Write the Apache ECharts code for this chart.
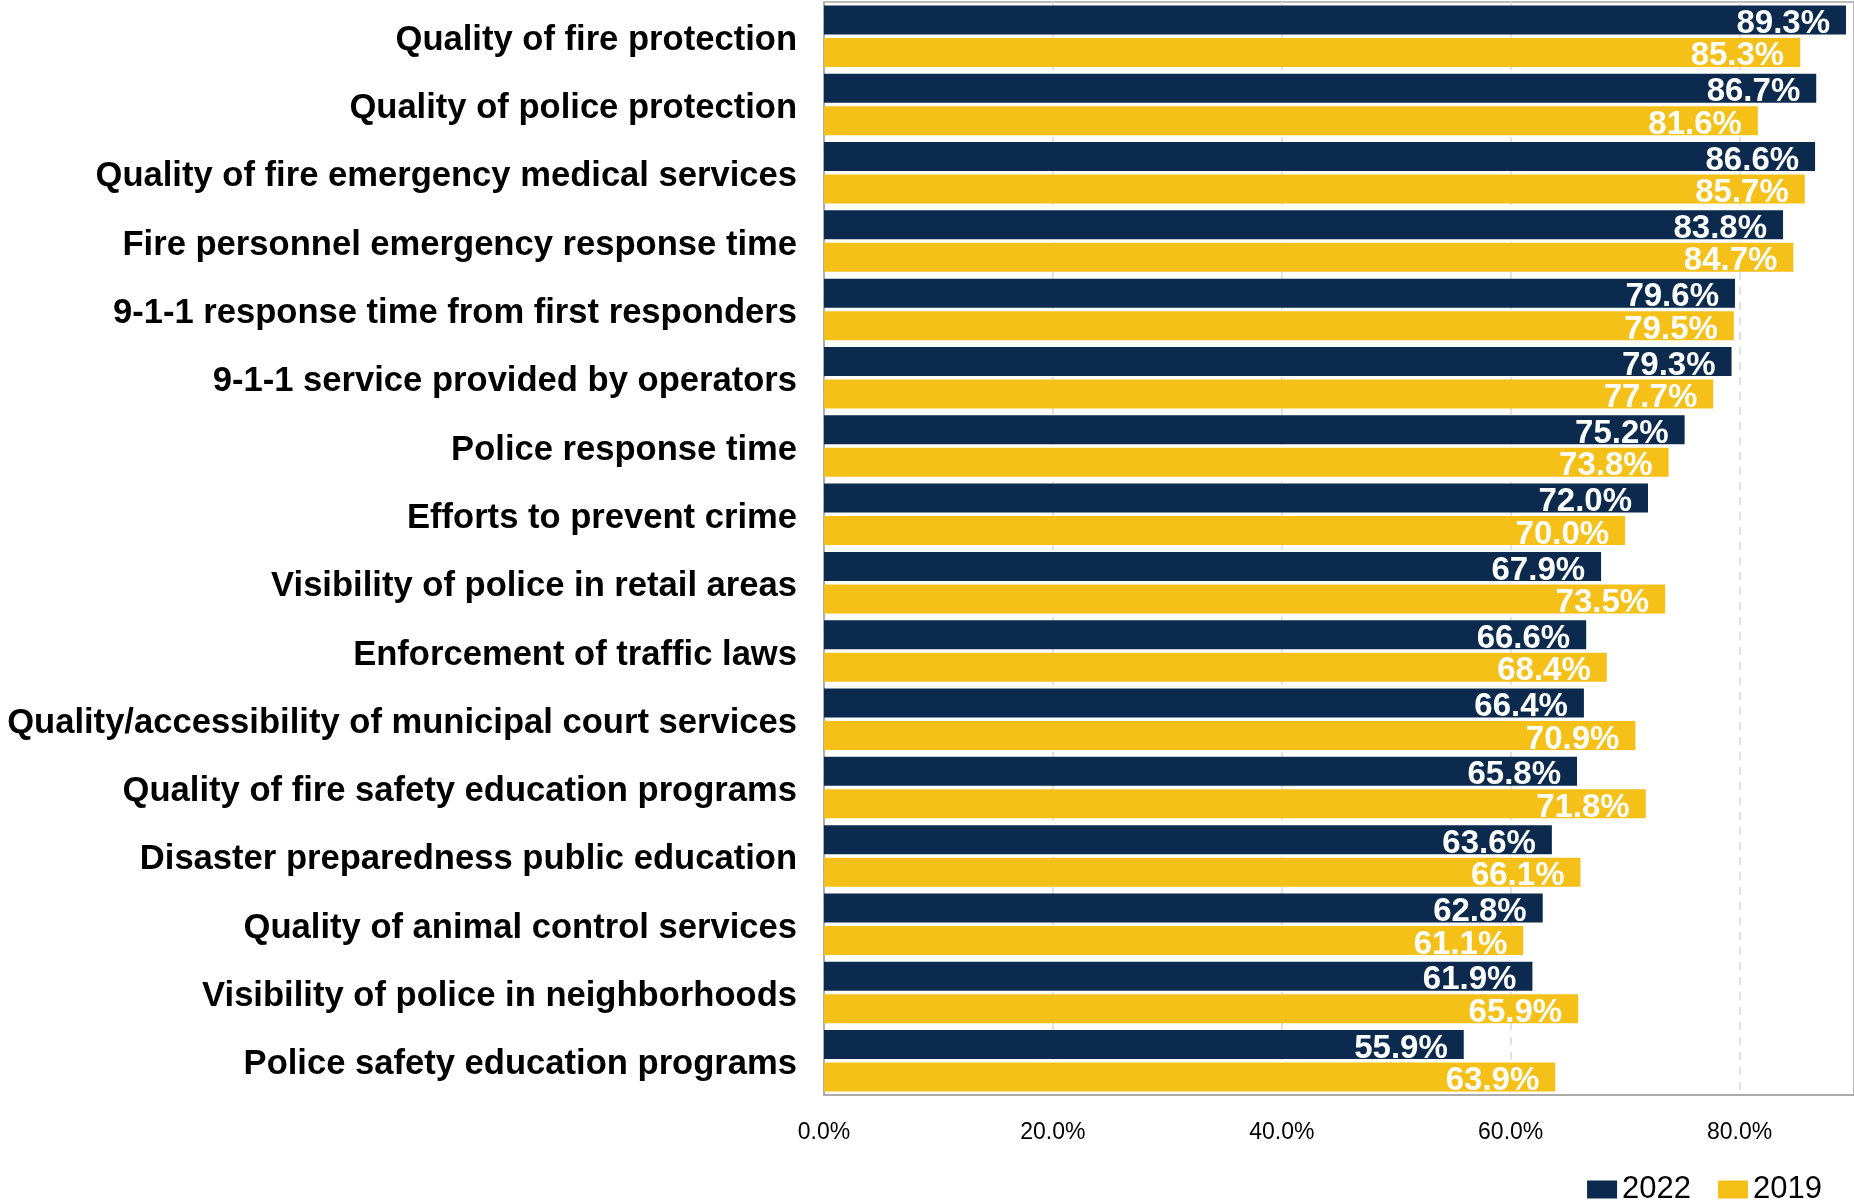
<!DOCTYPE html>
<html>
<head>
<meta charset="utf-8">
<script src="https://cdn.jsdelivr.net/npm/echarts@6/dist/echarts.min.js"></script>
<style>
  html, body { margin: 0; padding: 0; background: #ffffff; }
  #chart { width: 1854px; height: 1203px; }
</style>
</head>
<body>
<div id="chart"></div>
<script>
// Satisfaction with public safety services, share of respondents (%)
const categories = [
  'Quality of fire protection',
  'Quality of police protection',
  'Quality of fire emergency medical services',
  'Fire personnel emergency response time',
  '9-1-1 response time from first responders',
  '9-1-1 service provided by operators',
  'Police response time',
  'Efforts to prevent crime',
  'Visibility of police in retail areas',
  'Enforcement of traffic laws',
  'Quality/accessibility of municipal court services',
  'Quality of fire safety education programs',
  'Disaster preparedness public education',
  'Quality of animal control services',
  'Visibility of police in neighborhoods',
  'Police safety education programs'
];
const values2022 = [89.3, 86.7, 86.6, 83.8, 79.6, 79.3, 75.2, 72.0, 67.9, 66.6, 66.4, 65.8, 63.6, 62.8, 61.9, 55.9];
const values2019 = [85.3, 81.6, 85.7, 84.7, 79.5, 77.7, 73.8, 70.0, 73.5, 68.4, 70.9, 71.8, 66.1, 61.1, 65.9, 63.9];
const seriesNames = ['2022', '2019'];
const axisTicks = [0, 20, 40, 60, 80];

const NAVY = '#0B2A4D';
const GOLD = '#F5C118';
const valueFont = '"Liberation Sans Narrow", "Liberation Sans", Arial, sans-serif';
const textFont = '"Liberation Sans", Arial, sans-serif';

const chart = echarts.init(document.getElementById('chart'), null, { renderer: 'canvas' });

const barLabel = {
  show: true,
  position: 'insideRight',
  distance: 16,
  offset: [0, 4],
  color: '#ffffff',
  fontFamily: valueFont,
  fontWeight: 'bold',
  fontSize: 33,
  formatter: p => p.value.toFixed(1) + '%'
};

chart.setOption({
  animation: false,
  backgroundColor: '#ffffff',
  grid: {
    left: 824, right: 0, top: 2, bottom: 108,
    show: true, borderColor: '#a6a6a6', borderWidth: 1.5,
    containLabel: false,
    outerBoundsMode: 'none'
  },
  legend: {
    right: 27, top: 1169,
    itemWidth: 30, itemHeight: 18, itemGap: 27,
    icon: 'rect',
    textStyle: { fontFamily: textFont, fontSize: 31, color: '#000000' },
    data: seriesNames
  },
  xAxis: {
    type: 'value',
    min: 0, max: 90, interval: 20,
    axisLine: { show: true, lineStyle: { color: '#a6a6a6', width: 1.5 } },
    axisTick: { show: false },
    splitLine: {
      show: true,
      showMaxLine: false,
      lineStyle: { color: '#d9d9d9', type: [8, 7], width: 1.5 }
    },
    axisLabel: {
      margin: 26,
      color: '#000000',
      fontFamily: textFont,
      fontSize: 23,
      customValues: axisTicks,
      formatter: v => v.toFixed(1) + '%'
    }
  },
  yAxis: {
    type: 'category',
    inverse: true,
    data: categories,
    axisLine: { show: true, lineStyle: { color: '#a6a6a6', width: 1.5 } },
    axisTick: { show: false },
    axisLabel: {
      margin: 27,
      verticalAlign: 'top',
      lineHeight: 8,
      color: '#000000',
      fontFamily: textFont,
      fontWeight: 'bold',
      fontSize: 34.6
    }
  },
  series: [
    {
      name: seriesNames[0], type: 'bar', data: values2022,
      barWidth: 29, barGap: '12%',
      itemStyle: { color: NAVY },
      label: barLabel
    },
    {
      name: seriesNames[1], type: 'bar', data: values2019,
      barWidth: 29, barGap: '12%',
      itemStyle: { color: GOLD },
      label: barLabel
    }
  ]
});
</script>
</body>
</html>
